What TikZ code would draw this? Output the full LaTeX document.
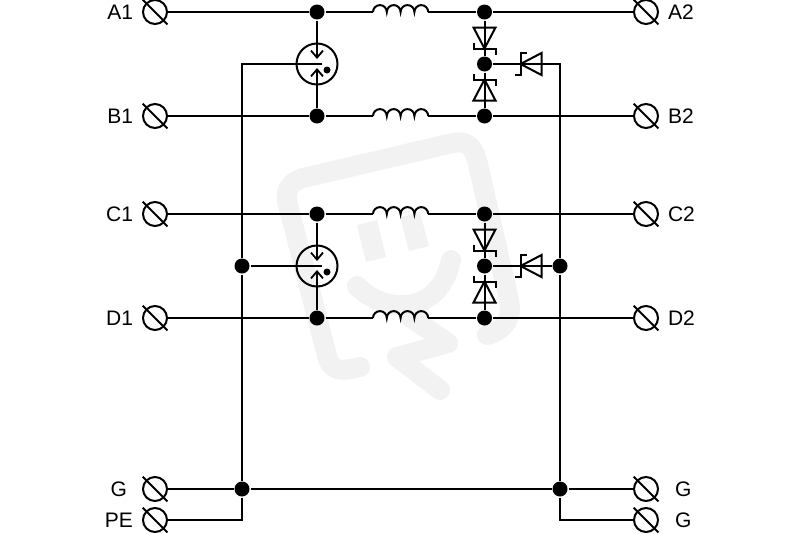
\documentclass[tikz,border=0pt]{standalone}
\usepackage{fontspec}
\setmainfont{Liberation Sans}
\usepackage{tikz}
\usetikzlibrary{arrows.meta}
\definecolor{wmark}{RGB}{242,242,242}

\begin{document}
\begin{tikzpicture}[x=1pt,y=-1pt,line width=2pt,
  terminal/.style={circle,draw,fill=none,inner sep=0pt,minimum size=24pt,
    append after command={(\tikzlastnode.135) edge[shorten <=-4.5pt,shorten >=-4.5pt] (\tikzlastnode.-45)}},
  dot/.style={circle,fill=black,inner sep=0pt,minimum size=15pt},
  pin/.style={circle,fill=black,inner sep=0pt,minimum size=7pt},
  tube/.style={circle,draw,inner sep=0pt,minimum size=41pt},
  every label/.style={inner sep=0pt,font=\fontsize{21}{24}\selectfont},
  label distance=8pt,
  inarrow/.style={-{Straight Barb[length=7pt,width=12pt,line width=1.8pt]}},
  wm/.style={draw=wmark,line width=20pt,line cap=round,line join=round},
  pics/coil/.style={code={
    \draw (0,0) arc[start angle=180,end angle=0,radius=6.9pt]
      arc[start angle=180,end angle=0,radius=6.9pt]
      arc[start angle=180,end angle=0,radius=6.9pt]
      arc[start angle=180,end angle=0,radius=6.9pt];}},
  pics/tvs/.style={code={
    \draw (21,-11) -- (0,0) -- (21,11) -- cycle;
    \draw (6,-11) -- (0,-11) -- (0,11) -- (-6,11);}}]
\useasboundingbox (0,0) rectangle (800,533);

% watermark
\draw[wm] (360,367) .. controls (340,372) and (330,372) .. (326,352) -- (288,205)
  .. controls (284,190) and (290,182) .. (303,178) -- (453,143)
  .. controls (466,140) and (473,146) .. (477,160) -- (509,300)
  .. controls (513,318) and (505,330) .. (487,335);
\draw[wm] (357,286) .. controls (385,315) and (440,315) .. (451,260);
\draw[wm] (410,317) -- (448,343) -- (397,357) -- (440,390);
\fill[wmark] (357,225) -- (377,220) -- (386,257) -- (366,262) -- cycle;
\fill[wmark] (400,217) -- (420,212) -- (429,246) -- (409,251) -- cycle;

% terminals
\node[terminal,label=left:A1] (A1) at (155,12) {};
\node[terminal,label=left:B1] (B1) at (155,116) {};
\node[terminal,label=left:C1] (C1) at (155,214) {};
\node[terminal,label=left:D1] (D1) at (155,318) {};
\node[terminal,label={[label distance=14pt]left:G}] (G1) at (155,489) {};
\node[terminal,label=left:PE] (PE) at (155,520) {};
\node[terminal,label=right:A2] (A2) at (646,12) {};
\node[terminal,label=right:B2] (B2) at (646,116) {};
\node[terminal,label=right:C2] (C2) at (646,214) {};
\node[terminal,label=right:D2] (D2) at (646,318) {};
\node[terminal,label={[label distance=15pt]right:G}] (G2) at (646,489) {};
\node[terminal,label={[label distance=15pt]right:G}] (G3) at (646,520) {};

% junctions
\node[dot] (PA) at (317,12) {};
\node[dot] (PB) at (317,116) {};
\node[dot] (PC) at (317,214) {};
\node[dot] (PD) at (317,318) {};
\node[dot] (QA) at (484.5,12) {};
\node[dot] (QM) at (484.5,64) {};
\node[dot] (QB) at (484.5,116) {};
\node[dot] (QC) at (484.5,214) {};
\node[dot] (QN) at (484.5,266) {};
\node[dot] (QD) at (484.5,318) {};
\node[dot] (LN) at (242,266) {};
\node[dot] (LG) at (242,489) {};
\node[dot] (RN) at (560,266) {};
\node[dot] (RG) at (560,489) {};

% gas tubes
\node[tube] (T1) at (317,64) {};
\node[tube] (T2) at (317,266) {};
\node[pin] (D3) at (327,70) {};
\node[pin] (D4) at (327,272) {};
\coordinate (T1a) at (317,59);
\coordinate (T1b) at (317,68);
\coordinate (T1c) at (322,64);
\coordinate (T2a) at (317,261);
\coordinate (T2b) at (317,270);
\coordinate (T2c) at (322,266);

% corners and coil ends
\coordinate (LK) at (242,64);
\coordinate (LE) at (242,520);
\coordinate (RK) at (560,64);
\coordinate (RE) at (560,520);
\coordinate (L1a) at (373,12);
\coordinate (L1b) at (428,12);
\coordinate (L2a) at (373,116);
\coordinate (L2b) at (428,116);
\coordinate (L3a) at (373,214);
\coordinate (L3b) at (428,214);
\coordinate (L4a) at (373,318);
\coordinate (L4b) at (428,318);

% coils
\pic at (L1a) {coil};
\pic at (L2a) {coil};
\pic at (L3a) {coil};
\pic at (L4a) {coil};

% suppressor diodes
\pic[rotate=90] at (484.5,48.5) {tvs};
\pic[rotate=-90] at (484.5,79.5) {tvs};
\pic at (520.5,64) {tvs};
\pic[rotate=90] at (484.5,250.5) {tvs};
\pic[rotate=-90] at (484.5,281.5) {tvs};
\pic at (520.5,266) {tvs};

\path[draw]
(A1) -- (PA) -- (L1a)
(L1b) -- (QA) -- (A2)
(B1) -- (PB) -- (L2a)
(L2b) -- (QB) -- (B2)
(C1) -- (PC) -- (L3a)
(L3b) -- (QC) -- (C2)
(D1) -- (PD) -- (L4a)
(L4b) -- (QD) -- (D2)
(QA) -- (QM) -- (QB)
(QC) -- (QN) -- (QD)
(QM) -- (RK) -- (RN) -- (RG) -- (RE) -- (G3)
(QN) -- (RN)
(T1c) -- (LK) -- (LN) -- (LG) -- (LE) -- (PE)
(T2c) -- (LN)
(G1) -- (LG) -- (RG) -- (G2);
\draw[inarrow] (PA) -- (T1a);
\draw[inarrow] (PB) -- (T1b);
\draw[inarrow] (PC) -- (T2a);
\draw[inarrow] (PD) -- (T2b);
\end{tikzpicture}
\end{document}
